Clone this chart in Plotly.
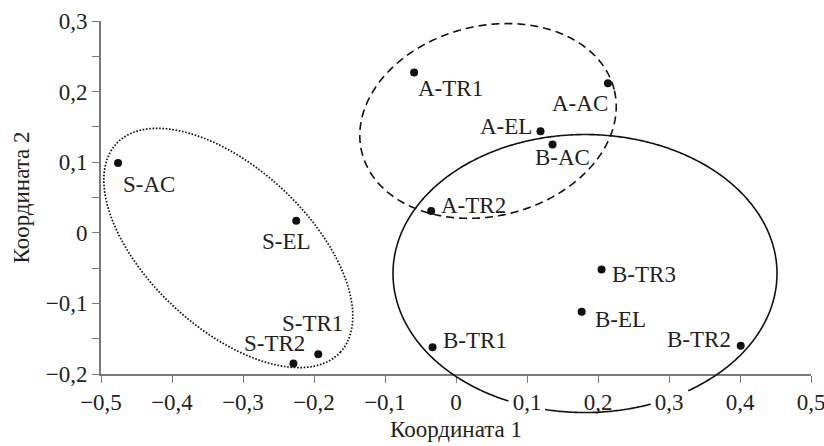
import numpy as np
import plotly.graph_objects as go

# ---------------- data ----------------
labels = ["S-AC", "S-EL", "S-TR1", "S-TR2",
          "A-TR1", "A-AC", "A-EL", "B-AC", "A-TR2",
          "B-TR3", "B-EL", "B-TR1", "B-TR2"]
coord1 = [-0.476, -0.225, -0.194, -0.229,
          -0.059, 0.214, 0.119, 0.136, -0.035,
          0.205, 0.177, -0.033, 0.401]
coord2 = [0.099, 0.017, -0.172, -0.185,
          0.227, 0.212, 0.144, 0.125, 0.031,
          -0.052, -0.112, -0.162, -0.160]

x_tickvals = [-0.5, -0.4, -0.3, -0.2, -0.1, 0, 0.1, 0.2, 0.3, 0.4, 0.5]
x_ticktext = ["−0,5", "−0,4", "−0,3", "−0,2", "−0,1", "0",
              "0,1", "0,2", "0,3", "0,4", "0,5"]
y_tickvals = [-0.2, -0.15, -0.1, -0.05, 0, 0.05, 0.1, 0.15, 0.2, 0.25, 0.3]
y_ticktext = ["−0,2", "", "−0,1", "", "0", "", "0,1", "", "0,2", "", "0,3"]

x_title = "Координата 1"
y_title = "Координата 2"

# ---------------- styling ----------------
W, H = 824, 446
ML, MR, MT, MB = 101, 13, 21, 72
PW, PH = W - ML - MR, H - MT - MB
XR = [-0.5, 0.5]
YR = [-0.2, 0.3]
FONT = "Liberation Serif, Times New Roman, serif"
TXT = "#231f20"
AXC = "#7a7a7a"
FS = 23

# label offsets in pixels (dx right, dy down)
label_offsets = [(31, 22), (-10, 21), (-6, -31), (-19, -20),
                 (36, 16), (-28, 20), (-34, -5), (10, 13), (42, -5),
                 (42, 5), (39, 8), (42, -7), (-42, -6)]

# group outlines: centre (data), semi-axes (px), angle (deg on screen), dash
outlines = [
    dict(cx=-0.3207, cy=-0.0215, a=153, b=80, ang=-43, dash="1.6px,1.7px", w=1.7, gaps=False),
    dict(cx=0.0451, cy=0.1584, a=130, b=95, ang=14, dash="8px,5px", w=1.6, gaps=False),
    dict(cx=0.1817, cy=-0.0577, a=192, b=139, ang=0, dash="solid", w=1.6, gaps=True),
]


def in_label_box(px, py):
    # the reference's tick labels mask the outline where it crosses them
    for v, t in zip(x_tickvals, x_ticktext):
        if not t:
            continue
        tx = ML + (v - XR[0]) / (XR[1] - XR[0]) * PW
        hw = 7 if len(t) == 1 else (18 if not t.startswith("−") else 23)
        if abs(px - tx) <= hw and 388 <= py <= 410:
            return True
    return False


def ellipse_path(o):
    t = np.linspace(0, 2 * np.pi, 721)
    phi = np.deg2rad(o["ang"])
    dx = o["a"] * np.cos(t) * np.cos(phi) - o["b"] * np.sin(t) * np.sin(phi)
    dy = o["a"] * np.cos(t) * np.sin(phi) + o["b"] * np.sin(t) * np.cos(phi)
    fx0 = (o["cx"] - XR[0]) / (XR[1] - XR[0])
    fy0 = (o["cy"] - YR[0]) / (YR[1] - YR[0])
    fx = fx0 + dx / PW
    fy = fy0 + dy / PH
    parts = []
    pen_down = False
    for x, y in zip(fx, fy):
        px = ML + x * PW
        py = MT + (1 - y) * PH
        if o["gaps"] and in_label_box(px, py):
            pen_down = False
            continue
        parts.append(("L " if pen_down else "M ") + f"{x:.5f},{y:.5f}")
        pen_down = True
    return " ".join(parts)


fig = go.Figure()
fig.add_trace(go.Scatter(
    x=coord1, y=coord2, mode="markers",
    marker=dict(size=8, color="#111111"),
    hoverinfo="text", text=labels, showlegend=False, cliponaxis=False,
))

for o in outlines:
    fig.add_shape(type="path", path=ellipse_path(o),
                  xref="x domain", yref="y domain",
                  line=dict(color="#111111", width=o["w"], dash=o["dash"]),
                  layer="above")

for lab, x, y, (dx, dy) in zip(labels, coord1, coord2, label_offsets):
    fig.add_annotation(x=x, y=y, text=lab, showarrow=False,
                       xshift=dx, yshift=-dy,
                       font=dict(family=FONT, size=FS, color=TXT))

fig.update_layout(
    width=W, height=H,
    margin=dict(l=ML, r=MR, t=MT, b=MB),
    paper_bgcolor="white", plot_bgcolor="white",
    font=dict(family=FONT, size=FS, color=TXT),
    showlegend=False,
)
fig.update_xaxes(
    range=XR, tickmode="array", tickvals=x_tickvals, ticktext=x_ticktext,
    showgrid=False, zeroline=False, showline=True, linecolor=AXC, linewidth=1.6,
    ticks="outside", ticklen=7, tickwidth=1.4, tickcolor=AXC,
    tickfont=dict(family=FONT, size=FS, color=TXT), ticklabeloverflow="allow",
    title=dict(text=x_title, standoff=6, font=dict(family=FONT, size=FS, color=TXT)),
    automargin=False,
)
fig.update_yaxes(
    range=YR, tickmode="array", tickvals=y_tickvals, ticktext=y_ticktext,
    showgrid=False, zeroline=False, showline=True, linecolor=AXC, linewidth=1.6,
    ticks="outside", ticklen=7, tickwidth=1.4, tickcolor=AXC,
    tickfont=dict(family=FONT, size=FS, color=TXT), ticklabeloverflow="allow",
    title=dict(text=y_title, standoff=10, font=dict(family=FONT, size=FS, color=TXT)),
    automargin=False,
)

fig.write_html(
    "out.html",
    config={"displayModeBar": False},
    post_script="document.body.style.margin='0';document.body.style.overflow='hidden';",
)
